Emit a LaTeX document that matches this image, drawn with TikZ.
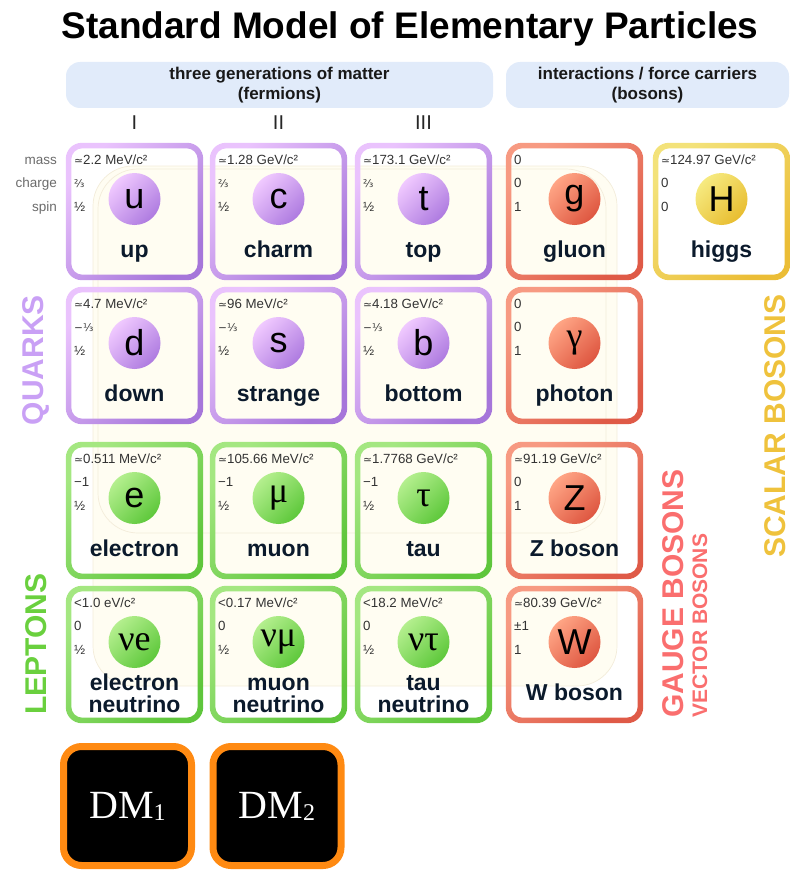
\documentclass[tikz,border=0pt]{standalone}
\usepackage{fontspec}
\setmainfont{Liberation Sans}
\newfontfamily\grk{Liberation Serif}
\newfontfamily\dvs[Scale=0.8]{DejaVu Sans}
\definecolor{qA}{HTML}{EAC3FD}
\definecolor{qB}{HTML}{A676DA}
\definecolor{qC}{HTML}{F0C9FF}
\definecolor{qD}{HTML}{AE7BE0}
\definecolor{lA}{HTML}{A4E781}
\definecolor{lB}{HTML}{5FC63C}
\definecolor{lC}{HTML}{B4EF8E}
\definecolor{lD}{HTML}{5EC83B}
\definecolor{gA}{HTML}{F79A82}
\definecolor{gB}{HTML}{DF5A47}
\definecolor{gC}{HTML}{FFA585}
\definecolor{gD}{HTML}{DE5640}
\definecolor{hA}{HTML}{F3E27A}
\definecolor{hB}{HTML}{EBBD36}
\definecolor{hC}{HTML}{F6EA80}
\definecolor{hD}{HTML}{E8BD30}
\definecolor{ink}{HTML}{0B1A2C}
\definecolor{dat}{HTML}{333333}
\definecolor{hdr}{HTML}{E1EBFA}
\definecolor{cream}{HTML}{FFFDF2}
\definecolor{creamline}{HTML}{F3ECDA}
\definecolor{dmorange}{HTML}{FF8A12}
\definecolor{quarkc}{HTML}{C9A0F5}
\definecolor{leptonc}{HTML}{6AD03E}
\definecolor{gaugec}{HTML}{FA6E6E}
\definecolor{scalarc}{HTML}{EFC23C}

\begin{document}
\begin{tikzpicture}[x=1pt,y=-1pt,
    cell/.style={minimum width=137pt,minimum height=137pt,inner sep=0pt},
    ball/.style={circle,minimum size=52pt,inner sep=0pt,font=\fontsize{36}{36}\selectfont},
    pname/.style={font=\bfseries\fontsize{23}{22}\selectfont,text=ink,align=center,inner sep=0pt,
      execute at end node=\vphantom{hg}},
    pdat/.style={anchor=base west,inner sep=0pt,font=\fontsize{13.3}{14}\selectfont,text=dat},
    rowlab/.style={anchor=base east,inner sep=0pt,font=\fontsize{13.5}{14}\selectfont,text=black!58},
    grouplab/.style={rotate=90,inner sep=0pt,font=\bfseries\fontsize{30}{30}\selectfont},
    hdrbar/.style={fill=hdr,rounded corners=14pt,minimum height=46pt,align=center,
      font=\bfseries\fontsize{17}{20}\selectfont,text=black!90},
    gen/.style={anchor=base,inner sep=0pt,font=\fontsize{20}{20}\selectfont,text=black!85},
    dmbox/.style={draw=dmorange,line width=7pt,fill=black,rounded corners=18pt,
      minimum width=128pt,minimum height=119pt,text=white,font=\grk\fontsize{40}{40}\selectfont}]
  \useasboundingbox (0,0) rectangle (790,872);

  % faint interaction zones behind the table
  \draw[creamline,fill=cream,line width=0.7pt,rounded corners=40pt] (93,166) rectangle (617,686);
  \draw[creamline,line width=0.7pt,rounded corners=40pt] (98,169) rectangle (606,533);

  \node[anchor=base,font=\bfseries\fontsize{37}{40}\selectfont] (title) at (410,39) {Standard Model of Elementary Particles};

  \node[hdrbar,minimum width=427pt] (ferm) at (279.5,85) {three generations of matter\\(fermions)};
  \node[hdrbar,minimum width=283pt] (bos) at (647.5,85) {interactions / force carriers\\(bosons)};
  \node[gen] (gI) at (134.5,129) {I};
  \node[gen] (gII) at (278.5,129) {II};
  \node[gen] (gIII) at (423.5,129) {III};

  \node[rowlab] (massl) at (57,164.5) {mass};
  \node[rowlab] (chgl) at (57,187.5) {charge};
  \node[rowlab] (spinl) at (57,211.5) {spin};

  \foreach \pid/\px/\py/\kind/\mass/\chg/\spin/\psym/\lab/\ly in {
      up/66/143/q/{{\dvs ≃}2.2 MeV/c²}/{\dvs ⅔}/½/u/up/109,
      charm/210/143/q/{{\dvs ≃}1.28 GeV/c²}/{\dvs ⅔}/½/c/charm/109,
      top/355/143/q/{{\dvs ≃}173.1 GeV/c²}/{\dvs ⅔}/½/t/top/109,
      gluon/506/143/g/0/0/1/g/gluon/109,
      higgs/653/143/h/{{\dvs ≃}124.97 GeV/c²}/0/0/H/higgs/109,
      down/66/287/q/{{\dvs ≃}4.7 MeV/c²}/{\dvs −⅓}/½/d/down/109,
      strange/210/287/q/{{\dvs ≃}96 MeV/c²}/{\dvs −⅓}/½/s/strange/109,
      bottom/355/287/q/{{\dvs ≃}4.18 GeV/c²}/{\dvs −⅓}/½/b/bottom/109,
      photon/506/287/g/0/0/1/{\grk γ}/photon/109,
      electron/66/442/l/{{\dvs ≃}0.511 MeV/c²}/−1/½/e/electron/109,
      muon/210/442/l/{{\dvs ≃}105.66 MeV/c²}/−1/½/{\grk μ}/muon/109,
      tau/355/442/l/{{\dvs ≃}1.7768 GeV/c²}/−1/½/{\grk τ}/tau/109,
      Z/506/442/g/{{\dvs ≃}91.19 GeV/c²}/0/1/Z/Z boson/109,
      nue/66/586/l/{<1.0 eV/c²}/0/½/{\grk νe}/{\vphantom{hg}electron\\neutrino}/110,
      numu/210/586/l/{<0.17 MeV/c²}/0/½/{\grk νμ}/{\vphantom{hg}muon\\neutrino}/110,
      nutau/355/586/l/{<18.2 MeV/c²}/0/½/{\grk ντ}/{\vphantom{hg}tau\\neutrino}/110,
      W/506/586/g/{{\dvs ≃}80.39 GeV/c²}/±1/1/W/W boson/109}
  {
    \node[cell] (\pid) at (\px+68.5,\py+68.5) {};
    \shade[top color=\kind A,bottom color=\kind B,shading angle=45,even odd rule,rounded corners=16pt]
      (\pid.north west) rectangle (\pid.south east)
      [rounded corners=11pt] ([xshift=5.5pt,yshift=-5.5pt]\pid.north west) rectangle ([xshift=-5.5pt,yshift=5.5pt]\pid.south east);
    \node[ball,top color=\kind C,bottom color=\kind D,shading angle=45] (\pid-b) at (\px+68.5,\py+56) {\psym};
    \node[pdat] (\pid-m) at (\px+8,\py+21.5) {\mass};
    \node[pdat] (\pid-q) at (\px+8,\py+44.5) {\chg};
    \node[pdat] (\pid-s) at (\px+8,\py+68.5) {\spin};
    \node[pname] (\pid-l) at (\px+68.5,\py+\ly) {\lab};
  }

  \node[grouplab,text=quarkc] (quarks) at (36,360) {QUARKS};
  \node[grouplab,text=leptonc] (leptons) at (36,644) {LEPTONS};
  \node[grouplab,text=gaugec,anchor=west] (gauge) at (673,718) {GAUGE BOSONS};
  \node[grouplab,text=gaugec,anchor=west,font=\bfseries\fontsize{21}{21}\selectfont] (vector) at (700,718) {VECTOR BOSONS};
  \node[grouplab,text=scalarc] (scalar) at (775,426) {SCALAR BOSONS};

  \node[dmbox] (dm1) at (127.5,806) {DM{\fontsize{24}{24}\selectfont\raisebox{-2pt}{1}}};
  \node[dmbox] (dm2) at (277,806) {DM{\fontsize{24}{24}\selectfont\raisebox{-2pt}{2}}};
\end{tikzpicture}
\end{document}
